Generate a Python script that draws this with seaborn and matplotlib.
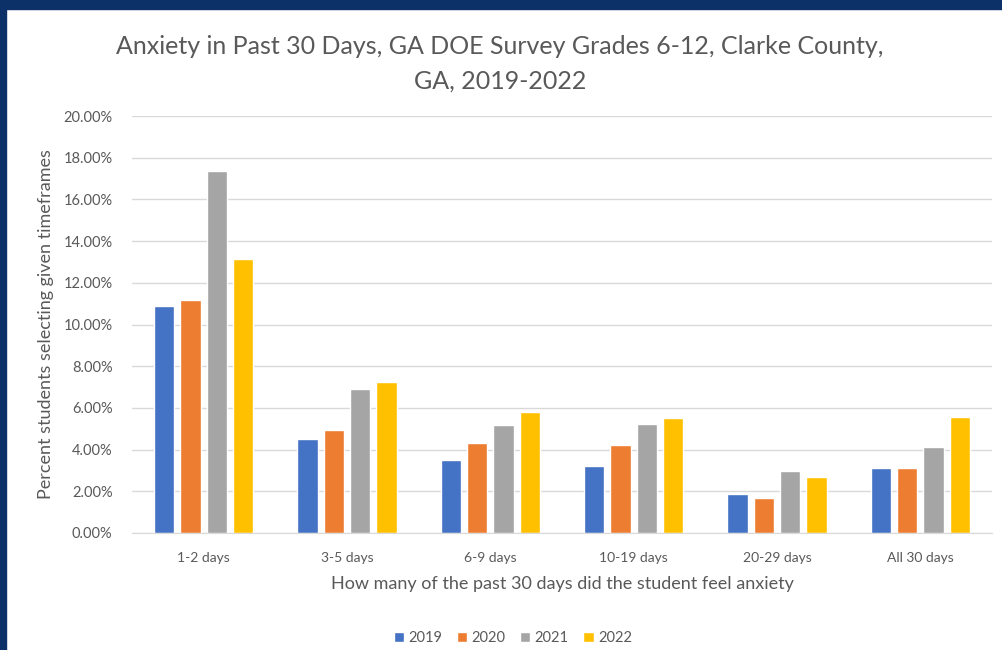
import pandas as pd
import numpy as np
import matplotlib
matplotlib.use('Agg')
import matplotlib.pyplot as plt
from matplotlib.patches import Rectangle
from matplotlib.ticker import PercentFormatter
import seaborn as sns

# data (fractions)
categories = ['1-2 days', '3-5 days', '6-9 days', '10-19 days', '20-29 days', 'All 30 days']
years = ['2019', '2020', '2021', '2022']
pct_2019 = [0.1089, 0.0453, 0.0348, 0.0321, 0.0188, 0.0313]
pct_2020 = [0.1117, 0.0493, 0.0434, 0.0424, 0.0169, 0.0313]
pct_2021 = [0.1738, 0.0690, 0.0519, 0.0525, 0.0299, 0.0413]
pct_2022 = [0.1313, 0.0726, 0.0578, 0.0550, 0.0267, 0.0557]
colors = ['#4472C4', '#ED7D31', '#A5A5A5', '#FFC000']

rows = []
for y, vals in zip(years, [pct_2019, pct_2020, pct_2021, pct_2022]):
    for c, v in zip(categories, vals):
        rows.append([c, y, v])
df = pd.DataFrame(rows, columns=['days', 'year', 'pct'])

sns.set_style('white')
plt.rcParams['font.family'] = ['Lato', 'DejaVu Sans']
txt = '#595959'

fig = plt.figure(figsize=(10.02, 6.5), dpi=100)
fig.patch.set_facecolor('white')
ax = fig.add_axes([132/1002, 1 - 533/650, 860/1002, 417/650])

sns.barplot(data=df, x='days', y='pct', hue='year', palette=colors,
            order=categories, hue_order=years, width=0.735, gap=0.24,
            saturation=1, ax=ax)

ax.set_ylim(0, 0.20)
ax.set_yticks(np.arange(0, 0.201, 0.02))
ax.yaxis.set_major_formatter(PercentFormatter(1, decimals=2))
ax.grid(axis='y', color='#d9d9d9', linewidth=1)
ax.set_axisbelow(True)
for s in ['top', 'right', 'left']:
    ax.spines[s].set_visible(False)
ax.spines['bottom'].set_color('#d9d9d9')
ax.tick_params(axis='both', length=0, colors=txt)
ax.tick_params(axis='x', pad=14, labelsize=10)
ax.tick_params(axis='y', pad=14, labelsize=10.5)
ax.set_xlabel('How many of the past 30 days did the student feel anxiety',
              fontsize=13, color=txt, labelpad=8)
ax.set_ylabel('Percent students selecting given timeframes',
              fontsize=13, color=txt, labelpad=7)

handles, labels = ax.get_legend_handles_labels()
ax.get_legend().remove()
fig.legend(handles, labels, loc='center', bbox_to_anchor=(513/1002, 1 - 638/650),
           ncol=4, frameon=False, fontsize=10.5, handlelength=0.7, handleheight=0.7,
           handletextpad=0.3, columnspacing=1.0, labelcolor=txt)

fig.text(500/1002, 1 - 47/650, 'Anxiety in Past 30 Days, GA DOE Survey Grades 6-12, Clarke County,',
         ha='center', va='center', fontsize=18, color=txt)
fig.text(500/1002, 1 - 81/650, 'GA, 2019-2022',
         ha='center', va='center', fontsize=18, color=txt)

# dark frame from the slide
navy = '#0b3168'
fig.add_artist(Rectangle((0, 1 - 9/650), 1, 9/650, transform=fig.transFigure,
                         color=navy, zorder=10))
fig.add_artist(Rectangle((0, 0), 6/1002, 1, transform=fig.transFigure,
                         color=navy, zorder=10))

fig.savefig('out.png', dpi=100)
